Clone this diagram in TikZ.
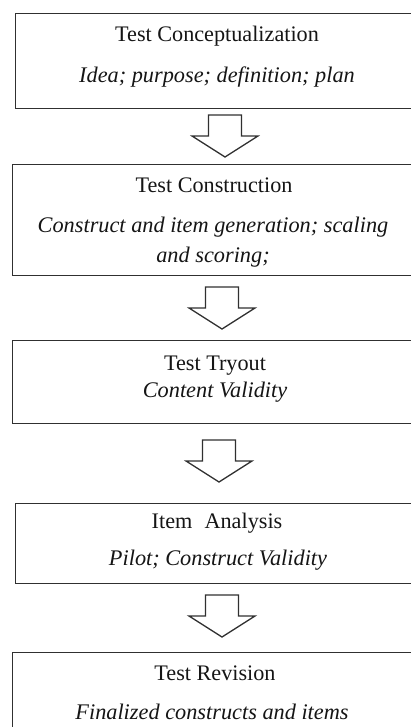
\documentclass[tikz,border=0pt]{standalone}
\usepackage{fontspec}
\setmainfont{Liberation Serif}
\definecolor{edge}{HTML}{303030}
\definecolor{ink}{HTML}{151515}
\tikzset{
  stagebox/.style={draw=edge, line width=1.4pt, fill=white, rectangle,
    inner sep=0pt, anchor=north west},
  title/.style={text=ink, anchor=base, inner sep=0pt,
    font=\fontsize{22.2}{26}\selectfont},
  detail/.style={text=ink, anchor=base, inner sep=0pt,
    font=\fontsize{22.3}{26}\selectfont\itshape},
  arrowline/.style={draw=edge, line width=1.3pt, fill=white, line join=miter},
  downarrow/.pic={
    \path[arrowline] (-16.5,0) -- (16.5,0) -- (16.5,21) -- (33,21)
      -- (0,42) -- (-33,21) -- (-16.5,21) -- cycle;
  }
}
\begin{document}
\begin{tikzpicture}[x=1pt,y=-1pt]
\useasboundingbox (0,0) rectangle (410,727);
\fill[white] (0,0) rectangle (410,727);

% stage boxes (they run past the right and bottom edges)
\node[stagebox, minimum width=405pt, minimum height=95pt]  (b1) at (15,13)  {};
\node[stagebox, minimum width=408pt, minimum height=111pt] (b2) at (12,164) {};
\node[stagebox, minimum width=408pt, minimum height=83pt]  (b3) at (12,340) {};
\node[stagebox, minimum width=405pt, minimum height=80pt]  (b4) at (15,503) {};
\node[stagebox, minimum width=408pt, minimum height=95pt]  (b5) at (12,652) {};

% texts
\node[title]  (t1)  at (217,42)  {Test Conceptualization};
\node[detail] (s1)  at (217,83)  {Idea; purpose; definition; plan};

\node[title]  (t2)  at (214,193) {Test Construction};
\node[detail] (s2a) at (213,232) {Construct and item generation; scaling};
\node[detail] (s2b) at (213,262) {and scoring;};

\node[title]  (t3)  at (215,370) {Test Tryout};
\node[detail] (s3)  at (215,397) {Content Validity};

\node[title]  (t4)  at (217,528) {Item\hspace{0.3em} Analysis};
\node[detail] (s4)  at (218,565) {Pilot; Construct Validity};

\node[title]  (t5)  at (215,680) {Test Revision};
\node[detail] (s5)  at (212,719) {Finalized constructs and items};

% block arrows between the stages
\coordinate (a1) at (225,115);
\coordinate (a2) at (222,287);
\coordinate (a3) at (219,440);
\coordinate (a4) at (222,595);
\pic at (a1) {downarrow};
\pic at (a2) {downarrow};
\pic at (a3) {downarrow};
\pic at (a4) {downarrow};
\end{tikzpicture}
\end{document}
